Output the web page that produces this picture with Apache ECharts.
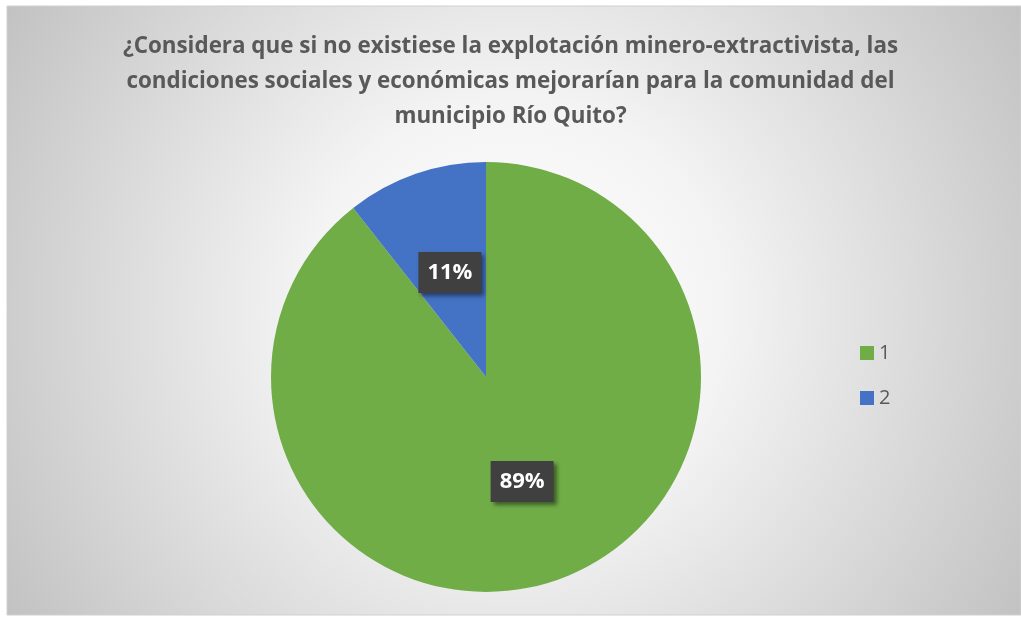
<!DOCTYPE html>
<html>
<head>
<meta charset="utf-8">
<script src="https://cdn.jsdelivr.net/npm/echarts@6/dist/echarts.min.js"></script>
<style>
  html, body { margin: 0; padding: 0; background: #fff; }
  #chart { width: 1021px; height: 617px; }
</style>
</head>
<body>
<div id="chart"></div>
<script>
const titleText = '¿Considera que si no existiese la explotación minero-extractivista, las\ncondiciones sociales y económicas mejorarían para la comunidad del\nmunicipio Río Quito?'
const categories = ['1', '2']
const values = [89.4, 10.6]
const colors = ['#70AD47', '#4472C4']

const chart = echarts.init(document.getElementById('chart'))

chart.setOption({
  title: {
    text: titleText,
    left: 'center',
    top: 24,
    textStyle: {
      fontFamily: 'Open Sans',
      fontWeight: 'bold',
      fontSize: 22.4,
      lineHeight: 35,
      color: '#595959'
    }
  },
  graphic: [{
    type: 'rect',
    z: -10,
    silent: true,
    shape: { x: 7, y: 6, width: 1014, height: 609 },
    style: {
      fill: {
        type: 'radial',
        x: 0.5, y: 0.5, r: 0.97,
        colorStops: [
          { offset: 0, color: '#ffffff' },
          { offset: 0.35, color: '#f4f4f4' },
          { offset: 1, color: '#c2c2c2' }
        ]
      },
      stroke: '#d0d0d0',
      lineWidth: 1
    }
  }],
  legend: {
    orient: 'vertical',
    left: 855,
    top: 338,
    itemWidth: 14,
    itemHeight: 14,
    itemGap: 25,
    icon: 'rect',
    textStyle: {
      fontFamily: 'Open Sans',
      fontSize: 20,
      color: '#595959'
    },
    data: categories
  },
  series: [{
    type: 'pie',
    center: [486, 377],
    radius: 215,
    startAngle: 90,
    clockwise: true,
    avoidLabelOverlap: false,
    silent: true,
    label: {
      show: true,
      position: 'inside',
      formatter: p => Math.round(p.percent) + '%',
      fontFamily: 'Open Sans',
      fontWeight: 'bold',
      fontSize: 22,
      color: '#ffffff',
      backgroundColor: '#404040',
      padding: [10, 9, 9, 9],
      shadowColor: 'rgba(0,0,0,0.45)',
      shadowBlur: 4,
      shadowOffsetX: 3,
      shadowOffsetY: 3
    },
    labelLine: { show: false },
    data: categories.map((c, i) => ({
      name: c,
      value: values[i],
      itemStyle: { color: colors[i] }
    }))
  }]
})
</script>
</body>
</html>
